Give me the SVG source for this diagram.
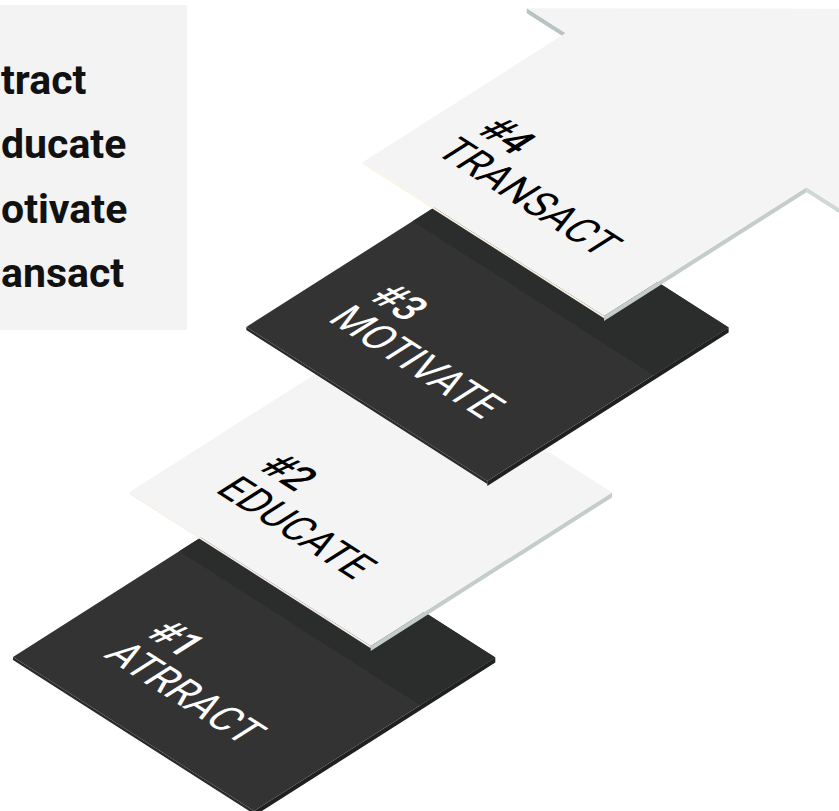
<svg xmlns="http://www.w3.org/2000/svg" width="839" height="811" viewBox="0 0 839 811">
<style>
.legend{font-family:Roboto,"Liberation Sans",sans-serif;font-weight:700;font-size:41px;fill:#111}
.num{font-family:Roboto,"Liberation Sans",sans-serif;font-weight:500;font-size:44px}
.word{font-family:Roboto,"Liberation Sans",sans-serif;font-weight:400;font-size:44px}
.dark .top{fill:#333333}
.dark .shade{fill:#2b2c2c}
.dark .sideR{fill:#1f2020}
.dark .sideL{fill:#2a2a2a}
.dark text{fill:#ffffff}
.light .top{fill:#f4f4f4}
.light .sideR{fill:#c4cccc}
.light .sideL{fill:#f6efea}
.light text{fill:#000000}
</style>
<rect width="839" height="811" fill="#ffffff"/>
<g id="legend">
<rect x="-10" y="5" width="197" height="325" fill="#f3f3f3"/>
<text class="legend" x="1" y="94">tract</text>
<text class="legend" x="1" y="158">ducate</text>
<text class="legend" x="1" y="223">otivate</text>
<text class="legend" x="1" y="287">ansact</text>
</g>
<g id="step1" class="dark" transform="matrix(0.8427 0.5385 -0.8438 0.537 13 657)">
<polygon class="sideL" points="0,0 286,0 288.8,2.8 2.8,2.8"/>
<polygon class="sideR" points="286,0 286,-286 290.65,-281.35 290.65,4.65"/>
<rect class="top" x="0" y="-286" width="286" height="286"/>
<rect class="shade" x="0" y="-286" width="286" height="89"/>
<text class="num" transform="translate(57,-99) scale(0.88,1)">#1</text>
<text class="word" transform="translate(52,-54) scale(0.88,1)">ATRRACT</text>
</g>
<g id="step2" class="light" transform="matrix(0.8427 0.5385 -0.8438 0.537 129.7 492)">
<polygon class="sideL" points="0,0 286,0 288,2 2,2"/>
<polygon class="sideR" points="286,0 286,-286 290.65,-281.35 290.65,4.65"/>
<rect class="top" x="0" y="-286" width="286" height="286"/>
<text class="num" transform="translate(53,-98) scale(0.88,1)">#2</text>
<text class="word" transform="translate(49,-51) scale(0.88,1)">EDUCATE</text>
</g>
<g id="step3" class="dark" transform="matrix(0.8427 0.5385 -0.8438 0.537 246.3 327)">
<polygon class="sideL" points="0,0 286,0 288.8,2.8 2.8,2.8"/>
<polygon class="sideR" points="286,0 286,-286 290.65,-281.35 290.65,4.65"/>
<rect class="top" x="0" y="-286" width="286" height="286"/>
<rect class="shade" x="0" y="-286" width="286" height="89"/>
<text class="num" transform="translate(45,-99) scale(0.88,1)">#3</text>
<text class="word" transform="translate(41,-54) scale(0.88,1)">MOTIVATE</text>
</g>
<g id="step4" class="light" transform="matrix(0.8427 0.5385 -0.8438 0.537 363 162)">
<polygon points="0,0 286,0 288,2 2,2" fill="#fbf3e4"/>
<polygon class="sideR" points="286,0 286,-240 290.65,-235.35 290.65,4.65"/>
<polygon points="-46,-240 0,-240 4.65,-235.35 -41.35,-235.35" fill="#b9c3c3"/>
<polygon points="286,-240 332,-240 336.65,-235.35 290.65,-235.35" fill="#cfd7d7"/>
<polygon class="top" points="0,0 286,0 286,-240 332,-240 143,-429 -46,-240 0,-240"/>
<text class="num" transform="translate(38,-95) scale(0.88,1)">#4</text>
<text class="word" transform="translate(33,-51) scale(0.88,1)">TRANSACT</text>
</g>
<g id="connectors"/>
</svg>
